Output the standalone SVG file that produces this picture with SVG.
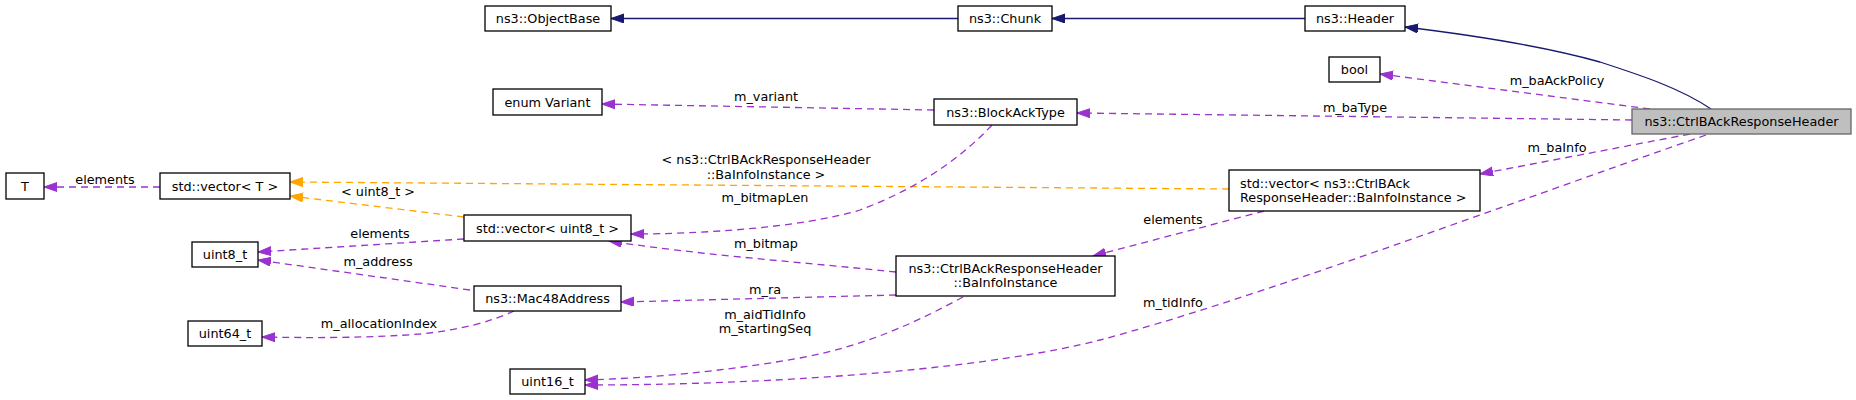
<svg xmlns="http://www.w3.org/2000/svg" width="1856" height="400" viewBox="0 0 1856 400">
<style>
.n rect{fill:#ffffff;stroke:#000000;stroke-width:1.3}
.cur rect{fill:#bfbfbf;stroke:#666666;stroke-width:1.3}
text{font-family:"DejaVu Sans",sans-serif;font-size:12.8px;fill:#000000}
.c{text-anchor:middle}
.e path{fill:none;stroke-width:1.3}
.inh{stroke:#191970}
.use{stroke:#9a32cd;stroke-dasharray:7,5}
.tpl{stroke:#ffa500;stroke-dasharray:7,5}
</style>
<defs>
<marker id="aB" markerUnits="userSpaceOnUse" markerWidth="14" markerHeight="10" refX="13" refY="4.5" orient="auto"><path d="M0,0 L13,4.5 L0,9 z" fill="#191970" stroke="#191970" stroke-width="1"/></marker>
<marker id="aP" markerUnits="userSpaceOnUse" markerWidth="14" markerHeight="10" refX="13" refY="4.5" orient="auto"><path d="M0,0 L13,4.5 L0,9 z" fill="#9a32cd" stroke="#9a32cd" stroke-width="1"/></marker>
<marker id="aO" markerUnits="userSpaceOnUse" markerWidth="14" markerHeight="10" refX="13" refY="4.5" orient="auto"><path d="M0,0 L13,4.5 L0,9 z" fill="#ffa500" stroke="#ffa500" stroke-width="1"/></marker>
</defs>
<rect width="1856" height="400" fill="#ffffff"/>
<g id="connectors" class="e">
<path class="inh" d="M958,18.5 L611,18.5" marker-end="url(#aB)"/>
<path class="inh" d="M1305,18.5 L1052,18.5" marker-end="url(#aB)"/>
<path class="inh" d="M1711,109 C1680,88 1640,75 1600,62 C1550,48 1480,36 1405,27" marker-end="url(#aB)"/>
<path class="use" d="M1650,109 L1380,74" marker-end="url(#aP)"/>
<path class="use" d="M1632,120 L1077,113" marker-end="url(#aP)"/>
<path class="use" d="M1690,134 L1480,174" marker-end="url(#aP)"/>
<path class="use" d="M1706,135 C1500,207 1250,300 1100,340 C1000,366 800,385 585,385" marker-end="url(#aP)"/>
<path class="use" d="M934,110 L602,104" marker-end="url(#aP)"/>
<path class="tpl" d="M1229,189 L290,182" marker-end="url(#aO)"/>
<path class="use" d="M1264,211 L1093,256" marker-end="url(#aP)"/>
<path class="use" d="M160,187 L44,187" marker-end="url(#aP)"/>
<path class="tpl" d="M464,217 L290,196" marker-end="url(#aO)"/>
<path class="use" d="M464,239 L258,252" marker-end="url(#aP)"/>
<path class="use" d="M992,125 C950,170 900,195 860,210 C800,228 700,234 631,234" marker-end="url(#aP)"/>
<path class="use" d="M896,272 C800,262 700,255 609,241" marker-end="url(#aP)"/>
<path class="use" d="M896,295 L621,302" marker-end="url(#aP)"/>
<path class="use" d="M963,297 C920,320 870,345 800,358 C720,372 650,378 585,380" marker-end="url(#aP)"/>
<path class="use" d="M470,290 L258,260" marker-end="url(#aP)"/>
<path class="use" d="M514,311 C490,322 460,330 420,334 C370,338 310,338 262,337" marker-end="url(#aP)"/>
<text class="c" x="1557" y="84.5">m_baAckPolicy</text>
<text class="c" x="1355" y="111.5">m_baType</text>
<text class="c" x="1557" y="151.5">m_baInfo</text>
<text class="c" x="1173" y="306.5">m_tidInfo</text>
<text class="c" x="766" y="163.5">&lt; ns3::CtrlBAckResponseHeader</text>
<text class="c" x="766" y="178.5">::BaInfoInstance &gt;</text>
<text class="c" x="1173" y="223.5">elements</text>
<text class="c" x="105" y="183.5">elements</text>
<text class="c" x="378" y="195.5">&lt; uint8_t &gt;</text>
<text class="c" x="380" y="237.5">elements</text>
<text class="c" x="766" y="100.5">m_variant</text>
<text class="c" x="765" y="201.5">m_bitmapLen</text>
<text class="c" x="766" y="247.5">m_bitmap</text>
<text class="c" x="765" y="293.5">m_ra</text>
<text class="c" x="765" y="318.5">m_aidTidInfo</text>
<text class="c" x="765" y="332.5">m_startingSeq</text>
<text class="c" x="378" y="265.5">m_address</text>
<text class="c" x="379" y="327.5">m_allocationIndex</text>
</g>
<g id="node-objectbase" class="n"><rect x="485" y="6" width="126" height="25"/><text class="c" x="548" y="23">ns3::ObjectBase</text></g>
<g id="node-chunk" class="n"><rect x="958" y="6" width="94" height="25"/><text class="c" x="1005" y="23">ns3::Chunk</text></g>
<g id="node-header" class="n"><rect x="1305" y="6" width="100" height="25"/><text class="c" x="1355" y="23">ns3::Header</text></g>
<g id="node-bool" class="n"><rect x="1329" y="57" width="51" height="25"/><text class="c" x="1354.5" y="74">bool</text></g>
<g id="node-ctrl" class="cur"><rect x="1632" y="109" width="219" height="25"/><text class="c" x="1741.5" y="126">ns3::CtrlBAckResponseHeader</text></g>
<g id="node-enumvariant" class="n"><rect x="493" y="89" width="109" height="26"/><text class="c" x="547.5" y="106.5">enum Variant</text></g>
<g id="node-blockacktype" class="n"><rect x="934" y="99" width="143" height="26"/><text class="c" x="1005.5" y="116.5">ns3::BlockAckType</text></g>
<g id="node-t" class="n"><rect x="6" y="173" width="38" height="26"/><text class="c" x="25" y="190.5">T</text></g>
<g id="node-vector-t" class="n"><rect x="160" y="173" width="130" height="26"/><text class="c" x="225" y="190.5">std::vector&lt; T &gt;</text></g>
<g id="node-vector-bainfo" class="n"><rect x="1229" y="170" width="251" height="41"/><text x="1240" y="187.5">std::vector&lt; ns3::CtrlBAck</text><text x="1240" y="201.5">ResponseHeader::BaInfoInstance &gt;</text></g>
<g id="node-vector-uint8" class="n"><rect x="464" y="215" width="167" height="26"/><text class="c" x="547.5" y="232.5">std::vector&lt; uint8_t &gt;</text></g>
<g id="node-uint8" class="n"><rect x="192" y="242" width="66" height="25"/><text class="c" x="225" y="259">uint8_t</text></g>
<g id="node-mac48" class="n"><rect x="474" y="286" width="147" height="25"/><text class="c" x="547.5" y="303">ns3::Mac48Address</text></g>
<g id="node-bainfoinstance" class="n"><rect x="896" y="256" width="219" height="40"/><text class="c" x="1005.5" y="272.5">ns3::CtrlBAckResponseHeader</text><text class="c" x="1005.5" y="286.5">::BaInfoInstance</text></g>
<g id="node-uint64" class="n"><rect x="188" y="321" width="74" height="25"/><text class="c" x="225" y="338">uint64_t</text></g>
<g id="node-uint16" class="n"><rect x="510" y="369" width="75" height="25"/><text class="c" x="547.5" y="386">uint16_t</text></g>
</svg>
